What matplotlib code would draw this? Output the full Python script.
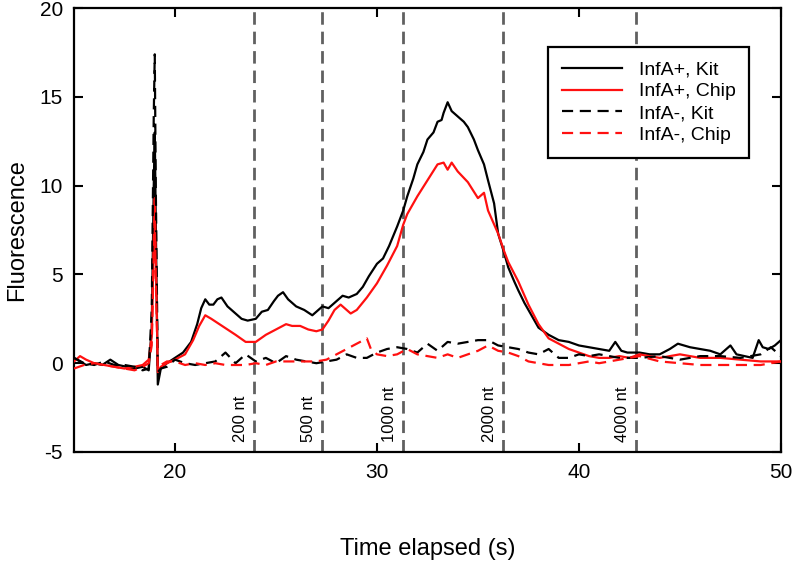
import matplotlib
matplotlib.use("Agg")
import matplotlib.pyplot as plt

plt.rcParams['font.family'] = ['Liberation Sans', 'DejaVu Sans']
plt.rcParams['axes.unicode_minus'] = False

# InfA+, Kit (black solid)
t_pk = [15, 15.3, 15.6, 16, 16.4, 16.8, 17.2, 17.6, 18.0, 18.4, 18.7, 18.85, 18.95, 19.0, 19.05, 19.15, 19.3,
        19.6, 20, 20.4, 20.8, 21.1, 21.3, 21.5, 21.7, 21.9, 22.1, 22.3, 22.6, 23.0, 23.3, 23.6, 24.0, 24.3, 24.6,
        24.9, 25.1, 25.35, 25.6, 26.0, 26.4, 26.8, 27.0, 27.3, 27.6, 28.0, 28.3, 28.6, 29.0, 29.3, 29.6, 30.0,
        30.3, 30.6, 31.0, 31.3, 31.5, 31.8, 32.0, 32.3, 32.5, 32.8, 33.0, 33.2, 33.3, 33.5, 33.7, 34.0, 34.3,
        34.5, 34.8, 35.0, 35.3, 35.5, 35.8, 36.0, 36.3, 36.5, 36.8, 37.0, 37.3, 37.5, 37.8,
        38.0, 38.5, 39.0, 39.5, 40.0, 40.5, 41.0, 41.5, 41.8, 42.1, 42.4, 43.0, 43.5, 44.0, 44.5, 44.9, 45.5,
        46.0, 46.5, 47.0, 47.5, 47.8, 48.2, 48.6, 48.9, 49.1, 49.4, 49.7, 50.0]
y_pk = [0.3, 0.1, -0.1, 0.0, -0.1, 0.2, -0.1, -0.2, -0.3, -0.2, -0.4, 2.0, 10.0, 13.0, 8.0, -1.2, -0.3,
        0.0, 0.3, 0.6, 1.2, 2.2, 3.1, 3.6, 3.3, 3.3, 3.6, 3.7, 3.2, 2.8, 2.5, 2.4, 2.5, 2.9, 3.0,
        3.5, 3.8, 4.0, 3.6, 3.2, 3.0, 2.7, 2.9, 3.2, 3.1, 3.5, 3.8, 3.7, 3.9, 4.3, 4.9, 5.6,
        5.9, 6.6, 7.7, 8.6, 9.4, 10.4, 11.2, 11.9, 12.6, 13.0, 13.6, 13.7, 14.1, 14.7, 14.2, 13.9, 13.6,
        13.3, 12.6, 12.0, 11.2, 10.3, 9.0, 7.3, 6.2, 5.4, 4.6, 4.1, 3.4, 3.0, 2.4,
        2.0, 1.6, 1.3, 1.2, 1.0, 0.9, 0.8, 0.7, 1.2, 0.7, 0.6, 0.6, 0.5, 0.5, 0.8, 1.1, 0.9,
        0.8, 0.7, 0.5, 1.0, 0.5, 0.4, 0.3, 1.3, 0.9, 0.8, 1.0, 1.3]

# InfA+, Chip (red solid)
t_pc = [15, 15.3, 15.6, 16, 16.5, 17.0, 17.5, 18.0, 18.4, 18.7, 18.85, 18.95, 19.0, 19.05, 19.15, 19.3,
        19.6, 20.0, 20.5, 20.9, 21.2, 21.5, 21.8, 22.2, 22.6, 23.0, 23.5, 24.0, 24.5, 25.0, 25.5, 25.8, 26.2,
        26.6, 27.0, 27.3, 27.6, 27.9, 28.2, 28.4, 28.7, 29.0, 29.5, 30.0, 30.5, 31.0, 31.3, 31.5, 32.0, 32.5,
        33.0, 33.3, 33.5, 33.7, 34.0, 34.5, 35.0, 35.3, 35.5, 36.0, 36.3, 36.5, 37.0, 37.5, 38.0, 38.5, 39.0,
        39.5, 40.0, 40.5, 41.0, 41.5, 42.0, 42.5, 43.0, 43.5, 44.0, 45.0, 46.0, 47.0, 48.0, 49.0, 50.0]
y_pc = [0.1, 0.4, 0.2, 0.0, -0.1, -0.2, -0.3, -0.2, -0.1, 0.2, 1.5, 7.0, 9.3, 6.0, -0.5, -0.2,
        0.0, 0.2, 0.5, 1.3, 2.1, 2.7, 2.5, 2.2, 1.9, 1.6, 1.2, 1.2, 1.6, 1.9, 2.2, 2.1, 2.1,
        1.9, 1.8, 1.9, 2.4, 3.0, 3.3, 3.1, 2.8, 3.0, 3.7, 4.5, 5.5, 6.6, 7.8, 8.4, 9.4, 10.3,
        11.2, 11.3, 10.9, 11.3, 10.8, 10.2, 9.3, 9.6, 8.6, 7.3, 6.3, 5.7, 4.6, 3.3, 2.2, 1.4, 1.1,
        0.8, 0.6, 0.4, 0.3, 0.3, 0.4, 0.3, 0.5, 0.4, 0.3, 0.5, 0.3, 0.3, 0.2, 0.1, 0.1]

# InfA-, Kit (black dashed)
t_nk = [15, 15.5, 16, 16.5, 17, 17.5, 18, 18.4, 18.7, 18.85, 18.95, 19.0, 19.05, 19.15, 19.3, 19.6,
        20, 20.5, 21, 21.5, 22, 22.5, 23, 23.5, 24, 24.5, 25, 25.5, 26, 26.5, 27, 27.5, 28, 28.5, 29, 29.5,
        30, 30.5, 31, 31.5, 32, 32.5, 33, 33.5, 34, 34.5, 35, 35.5, 36, 36.5, 37, 37.5, 38, 38.5, 39, 39.5,
        40, 40.5, 41, 42, 43, 44, 45, 46, 47, 48, 49, 49.5, 50]
y_nk = [0.3, 0.0, -0.1, 0.1, -0.1, -0.1, -0.2, -0.4, -0.3, 3.0, 14.0, 17.4, 10.0, -0.5, -0.3, -0.2,
        0.2, 0.0, -0.1, 0.0, 0.1, 0.6, 0.0, 0.5, 0.1, 0.3, 0.0, 0.4, 0.2, 0.1, 0.0, 0.1, 0.2, 0.5, 0.3, 0.3,
        0.6, 0.8, 0.9, 0.8, 0.6, 1.1, 0.7, 1.2, 1.1, 1.2, 1.3, 1.3, 1.0, 0.9, 0.8, 0.6, 0.5, 0.8, 0.3, 0.3,
        0.5, 0.4, 0.5, 0.3, 0.3, 0.4, 0.2, 0.4, 0.4, 0.3, 0.5, 0.9, 0.4]

# InfA-, Chip (red dashed)
t_nc = [15, 15.5, 16, 16.5, 17, 17.5, 18, 18.4, 18.7, 18.85, 18.95, 19.0, 19.05, 19.15, 19.3, 19.6,
        20, 20.5, 21, 21.5, 22, 22.5, 23, 23.5, 24, 24.5, 25, 25.5, 26, 26.5, 27, 27.5, 28, 28.5, 29, 29.5,
        29.7, 30, 30.5, 31, 31.5, 32, 32.5, 33, 33.5, 34, 34.5, 35, 35.5, 36, 36.5, 37, 37.5, 38, 38.5, 39,
        39.5, 40, 40.5, 41, 42, 43, 44, 45, 46, 47, 48, 49, 50]
y_nc = [-0.3, -0.1, 0.0, -0.1, -0.2, -0.3, -0.4, -0.2, 0.0, 1.0, 6.0, 8.0, 5.0, -0.3, -0.1, 0.1,
        0.1, -0.1, 0.0, -0.1, 0.0, -0.1, -0.1, -0.1, 0.0, -0.1, 0.1, 0.1, 0.1, 0.1, 0.1, 0.2, 0.5, 0.8, 1.1, 1.4,
        0.8, 0.5, 0.4, 0.5, 0.8, 0.5, 0.4, 0.3, 0.5, 0.3, 0.5, 0.7, 1.0, 0.7, 0.6, 0.4, 0.1, 0.0, -0.1, -0.1,
        -0.1, 0.0, 0.1, 0.0, 0.2, 0.4, 0.1, 0.0, -0.1, -0.1, -0.1, -0.1, 0.1]

marker_x = [23.92, 27.28, 31.3, 36.22, 42.83]
marker_labels = ["200 nt", "500 nt", "1000 nt", "2000 nt", "4000 nt"]

RED = '#ff1010'

fig = plt.figure(figsize=(7.92, 5.82), dpi=100)
ax = fig.add_axes([0.0934, 0.2234, 0.8926, 0.7626])

for xm, lab in zip(marker_x, marker_labels):
    ax.axvline(xm, color='#606060', lw=2.0, ls=(0, (4.5, 2.5)), zorder=1)
    ax.text(xm - 0.3, -4.45, lab, rotation=90, ha='right', va='bottom', fontsize=12, zorder=3)

ax.plot(t_pk, y_pk, color='black', lw=1.6, label='InfA+, Kit', zorder=4)
ax.plot(t_pc, y_pc, color=RED, lw=1.6, label='InfA+, Chip', zorder=4)
ax.plot(t_nk, y_nk, color='black', lw=1.6, ls=(0, (5, 3)), label='InfA-, Kit', zorder=4)
ax.plot(t_nc, y_nc, color=RED, lw=1.6, ls=(0, (5, 3)), label='InfA-, Chip', zorder=4)

ax.set_xlim(15, 50)
ax.set_ylim(-5, 20)
ax.set_xticks([20, 30, 40, 50])
ax.set_yticks([-5, 0, 5, 10, 15, 20])
ax.tick_params(direction='in', length=6.5, width=1.5, labelsize=15, top=True, right=True, pad=8)
for s in ax.spines.values():
    s.set_linewidth(1.6)
ax.set_xlabel('Time elapsed (s)', fontsize=17, labelpad=40)
ax.set_ylabel('Fluorescence', fontsize=17, labelpad=8)

leg = ax.legend(loc='upper right', bbox_to_anchor=(0.955, 0.912), borderaxespad=0, fontsize=14,
                frameon=True, fancybox=False, edgecolor='black', framealpha=1, handlelength=3.1,
                borderpad=0.7, labelspacing=0.22, handletextpad=0.85)
leg.get_frame().set_linewidth(1.6)

fig.savefig('out.png', dpi=100)
